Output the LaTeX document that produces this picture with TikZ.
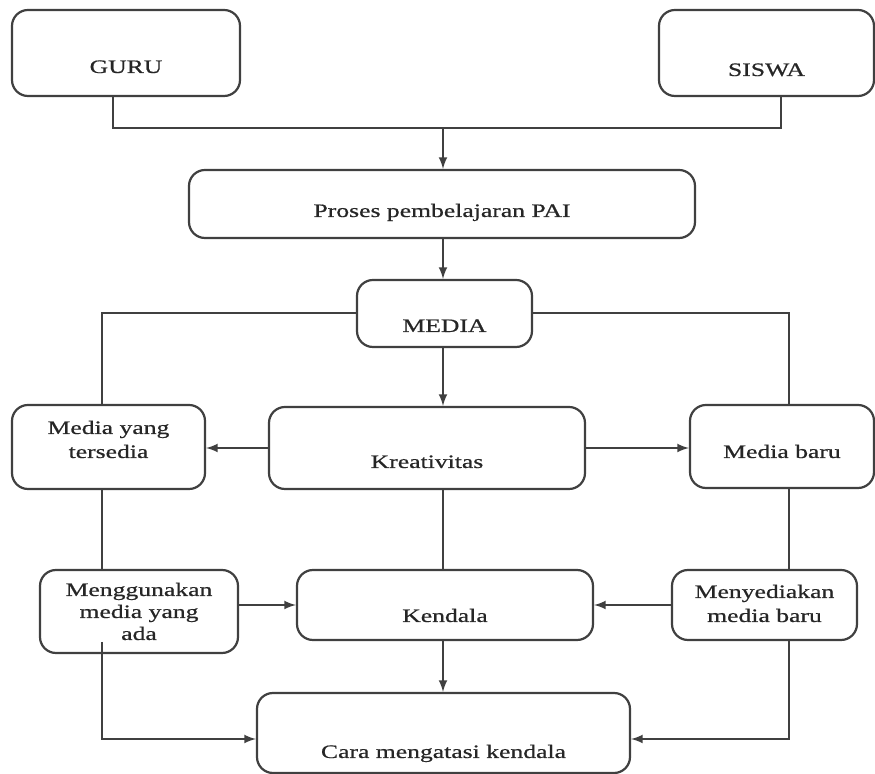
\documentclass[tikz,border=0pt]{standalone}
\usepackage{fontspec}
\setmainfont{Liberation Serif}[FakeStretch=1.35,FakeBold=0.7]
\usetikzlibrary{arrows}

\begin{document}
\begin{tikzpicture}[x=0.5pt,y=0.5pt,yscale=-1,xscale=1,
  box/.style={draw=black!75, line width=1.1pt, rounded corners=8pt, inner sep=0pt, align=center, text=black!85, font=\fontsize{9.5}{12}\selectfont},
  conn/.style={draw=black!75, line width=1pt},
  arr/.style={conn, -latex}]
\path[use as bounding box] (0,0) rectangle (875,774);

% Boxes
\node[box, minimum width=114pt, minimum height=43pt, text height=31.5pt, text depth=11.5pt] (guru) at (126,53) {GURU};
\node[box, minimum width=107.5pt, minimum height=43pt, text height=33pt, text depth=10pt] (siswa) at (766.5,53) {SISWA};
\node[box, minimum width=253pt, minimum height=34pt, text height=23.5pt, text depth=10.5pt] (proses) at (442,204) {Proses pembelajaran PAI};
\node[box, minimum width=87.5pt, minimum height=33.5pt, text height=26pt, text depth=7.5pt] (media) at (444.5,313.5) {MEDIA};
\node[box, minimum width=158pt, minimum height=41pt, text height=30.5pt, text depth=10.5pt] (kreativitas) at (427,448) {Kreativitas};
\node[box, minimum width=96.5pt, minimum height=42pt, text height=26.5pt, text depth=15.5pt] (tersedia) at (108.5,447) {Media yang\\tersedia};
\node[box, minimum width=92pt, minimum height=41.5pt, text height=26.5pt, text depth=15pt] (mbaru) at (782,446.5) {Media baru};
\node[box, minimum width=99pt, minimum height=41.5pt, text height=35pt, text depth=6.5pt, font=\fontsize{9.5}{11}\selectfont] (mengg) at (139,611.5) {Menggunakan\\media yang\\ada};
\node[box, minimum width=148pt, minimum height=35pt, text height=26pt, text depth=9pt] (kendala) at (445,605) {Kendala};
\node[box, minimum width=92.5pt, minimum height=35pt, text height=26pt, text depth=9pt] (menyed) at (764.5,605) {Menyediakan\\media baru};
\node[box, minimum width=186.5pt, minimum height=40pt, text height=32.5pt, text depth=7.5pt] (cara) at (443.5,733) {Cara mengatasi kendala};

% Bends
\coordinate (mid) at (443,0);
\coordinate (lcol) at (102,0);
\coordinate (rcol) at (789,0);
\coordinate (top join) at (443,128);
\coordinate (ada tail) at (102,642);
\coordinate (low row) at (0,739);

% Connectors
\draw[conn] (113,0 |- guru.south) |- (top join) -| (781,0 |- siswa.south);
\draw[arr] (top join) -- (top join |- proses.north);
\draw[arr] (mid |- proses.south) -- (mid |- media.north);
\draw[conn] (media.west) -| (lcol |- tersedia.north);
\draw[conn] (media.east) -| (rcol |- mbaru.north);
\draw[arr] (mid |- media.south) -- (mid |- kreativitas.north);
\draw[arr] (kreativitas.west) -- (kreativitas.west -| tersedia.east);
\draw[arr] (kreativitas.east) -- (kreativitas.east -| mbaru.west);
\draw[conn] (mid |- kreativitas.south) -- (mid |- kendala.north);
\draw[conn] (lcol |- tersedia.south) -- (lcol |- mengg.north);
\draw[conn] (rcol |- mbaru.south) -- (rcol |- menyed.north);
\draw[arr] (kendala.west -| mengg.east) -- (kendala.west);
\draw[arr] (menyed.west) -- (kendala.east);
\draw[arr] (mid |- kendala.south) -- (mid |- cara.north);
\draw[arr] (ada tail) |- (cara.west |- low row);
\draw[arr] (rcol |- menyed.south) |- (cara.east |- low row);

\end{tikzpicture}
\end{document}
